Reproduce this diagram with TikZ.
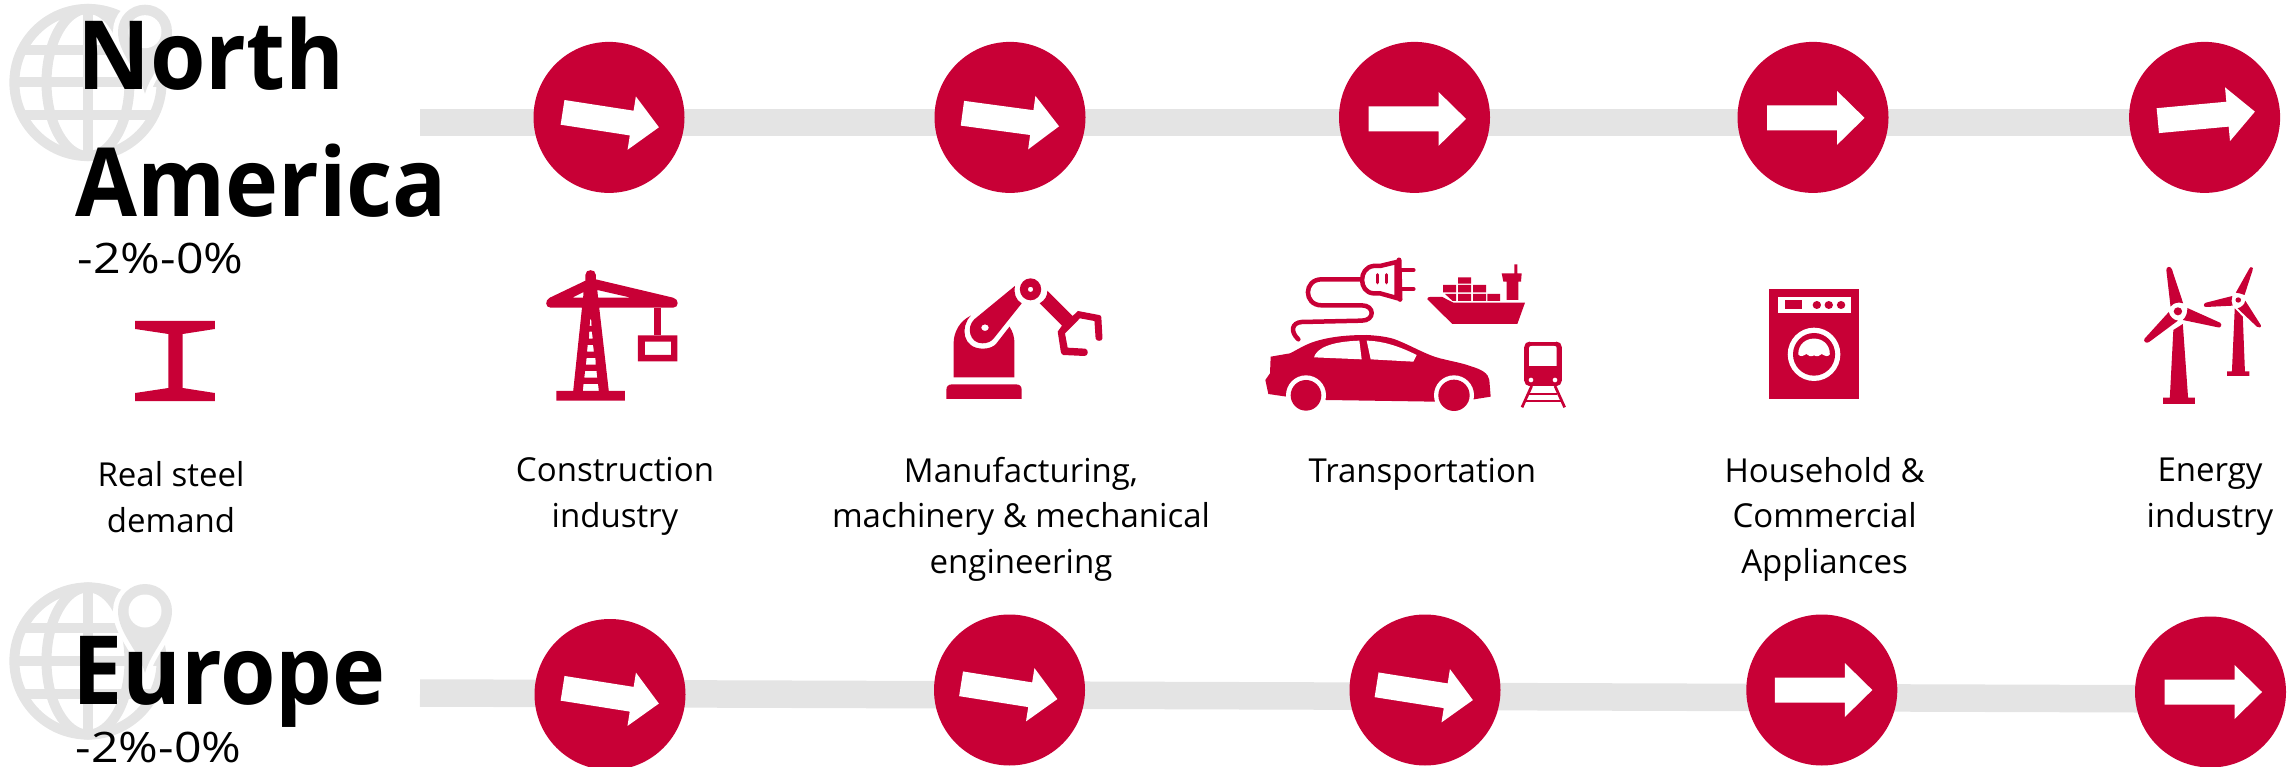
\documentclass[tikz,border=0pt]{standalone}
\usepackage{fontspec}
\setmainfont{Open Sans}
\newfontfamily\pctfont[FakeStretch=1.15]{Open Sans}
\newfontfamily\titlefont[FakeStretch=0.94]{Open Sans}
\usetikzlibrary{backgrounds}
\definecolor{steelred}{HTML}{C80036}
\definecolor{lightgrey}{HTML}{E4E4E4}
\tikzset{
  x=1pt,y=-1pt,
  redcirc/.style={circle,fill=steelred,minimum size=151pt,inner sep=0pt},
  bar/.style={draw=lightgrey,line width=27.5pt},
  icon/.style={fill=steelred,even odd rule},
  hole/.style={fill=white},
  title/.style={font=\fontsize{95.5}{95.5}\titlefont\bfseries,anchor=base west,inner sep=0pt},
  pct/.style={font=\fontsize{42}{42}\pctfont,anchor=base west,inner sep=0pt},
  lbl/.style={font=\fontsize{33}{45.5}\selectfont,anchor=base,align=center,inner sep=0pt},
  crop5/.style={shift={(520,250)},x=0.3827pt,y=-0.33333pt},
  crop4/.style={shift={(1240,240)},x=0.33333pt,y=-0.33333pt},
  crop6/.style={shift={(1740,250)},x=0.35088pt,y=-0.33333pt},
}
\newcommand{\whitearrow}[3]{%
  \fill[white,shift={(#1)},shift={(#3)},rotate=#2]
    (-46,-12.5)--(24,-12.5)--(24,-27)--(51.5,0)--(24,27)--(24,12.5)--(-46,12.5)--cycle;}
\newcommand{\globe}[2]{%
  \begin{scope}[shift={(#1)}]
    \draw[lightgrey,line width=10pt] (0,0) circle[radius=73.6];
    \draw[lightgrey,line width=10pt] (0,0) circle[x radius=41.5,y radius=73.6];
    \draw[lightgrey,line width=10pt] (0,-73.6)--(0,73.6);
    \draw[lightgrey,line width=10pt] (-72,0)--(72,0) (-66,-32.7)--(66,-32.7) (-66,32.7)--(66,32.7);
  \end{scope}
  \begin{scope}[shift={(#2)}]
    \filldraw[fill=lightgrey,draw=white,line width=10pt]
      (0,62) .. controls (-6,40) and (-27,22) .. (-27,0)
      .. controls (-27,-15) and (-15,-27) .. (0,-27)
      .. controls (15,-27) and (27,-15) .. (27,0)
      .. controls (27,22) and (6,40) .. (0,62) -- cycle;
    \fill[lightgrey]
      (0,62) .. controls (-6,40) and (-27,22) .. (-27,0)
      .. controls (-27,-15) and (-15,-27) .. (0,-27)
      .. controls (15,-27) and (27,-15) .. (27,0)
      .. controls (27,22) and (6,40) .. (0,62) -- cycle;
    \fill[white] (0,0) circle[radius=16.5];
  \end{scope}}
\begin{document}
\begin{tikzpicture}
\useasboundingbox (0,0) rectangle (2292,767);
% globes
\globe{88,82.5}{145,31.7}
\globe{88,661}{145,611}
% circles
\node[redcirc] (n1) at (609,117.4) {};
\node[redcirc] (n2) at (1010,117.4) {};
\node[redcirc] (n3) at (1414.5,117.4) {};
\node[redcirc] (n4) at (1813,117.4) {};
\node[redcirc] (n5) at (2204.6,117.4) {};
\node[redcirc] (e1) at (610,694.5) {};
\node[redcirc] (e2) at (1009.5,690) {};
\node[redcirc] (e3) at (1425,690) {};
\node[redcirc] (e4) at (1821.8,690) {};
\node[redcirc] (e5) at (2210.5,692) {};
\coordinate (nstart) at (420,122.7);
\coordinate (nend) at (2204,122.7);
\coordinate (estart) at (420,693);
\coordinate (eend) at (2210,699);
\begin{pgfonlayer}{background}
  \draw[bar] (nstart) -- (nend);
  \draw[bar] (estart) -- (eend);
\end{pgfonlayer}
\whitearrow{n1}{-8.8}{-1,2}
\whitearrow{n2}{-7.7}{-2,2}
\whitearrow{n3}{0}{0,1.5}
\whitearrow{n4}{0}{0,0.5}
\whitearrow{n5}{5.3}{-1,-1}
\whitearrow{e1}{-9}{-2,1}
\whitearrow{e2}{-9}{-3,1}
\whitearrow{e3}{-9}{-3,2}
\whitearrow{e4}{0}{-1,0}
\whitearrow{e5}{0}{0,0}
% titles
\node[title] (t1) at (77,89.5) {North};
\node[title] (t2) at (75,216.7) {America};
\node[pct] (p1) at (77.5,274) {-2\%-0\%};
\node[title] (t3) at (72,704.5) {Europe};
\node[pct] (p2) at (75.5,762) {-2\%-0\%};
% labels
\node[lbl] (l0) at (171,532) {Real steel\\demand};
\node[lbl] (l1) at (615,527) {Construction\\industry};
\node[lbl] (l2) at (1021,573) {Manufacturing,\\machinery \& mechanical\\engineering};
\node[lbl] (l3) at (1422.4,482) {Transportation};
\node[lbl] (l4) at (1824.6,573) {Household \&\\Commercial\\Appliances};
\node[lbl] (l5) at (2210,527) {Energy\\industry};
% beam
\fill[steelred] (135.2,321)--(214.8,321)--(214.8,329)--(182.7,334)--(182.7,388)--(214.8,393)--(214.8,401)--(135.2,401)--(135.2,393)--(168.4,388)--(168.4,334)--(135.2,329)--cycle;
% crane
\begin{scope}[crop5]
\fill[icon] (171,92)--(171,74) .. controls (171,56) and (198,56) .. (198,74)--(198,88)--(400,143) .. controls (416,147) and (416,173) .. (400,173)--(207,173)--(232,423)--(274,423)--(274,452)--(95,452)--(95,423)--(139,423)--(162,173)--(80,173) .. controls (65,173) and (65,150) .. (78,143)--cycle
 (137,143)--(166,126)--(165,143)--cycle
 (202,120)--(290,143)--(204,143)--cycle
 (183,208)--(186,208)--(187,228)--(182,228)--cycle
 (181,245)--(188,245)--(190,266)--(180,266)--cycle
 (177,285)--(191,285)--(193,305)--(175,305)--cycle
 (174,324)--(197,324)--(198,344)--(172,344)--cycle
 (170,363)--(200,363)--(202,383)--(168,383)--cycle
 (166,402)--(204,402)--(206,423)--(164,423)--cycle;
\fill[steelred] (351,173) rectangle (368,256);
\fill[icon] (308,256) rectangle (411,334) (326,275) rectangle (395,315);
% robot
\fill[steelred] (1114,447)--(1114,420) .. controls (1114,408) and (1120,403) .. (1130,403)--(1295,403) .. controls (1305,403) and (1311,408) .. (1311,420)--(1311,447)--cycle;
\fill[steelred] (1133,382)--(1133,280) .. controls (1133,245) and (1150,212) .. (1178,197) .. controls (1150,230) and (1155,296) .. (1210,296) .. controls (1228,296) and (1240,288) .. (1245,280)--(1279,230) .. controls (1288,245) and (1292,262) .. (1292,280)--(1292,382)--cycle;
\fill[icon] (1293,108)--(1187,208) .. controls (1165,232) and (1175,280) .. (1208,280) .. controls (1222,280) and (1232,274) .. (1238,265)--(1311,160) .. controls (1295,150) and (1290,130) .. (1293,108)--cycle
 (1215,233) circle[x radius=10,y radius=10];
\fill[icon] (1334,118) circle[x radius=28,y radius=33] (1334,118) circle[x radius=7,y radius=8];
\fill[steelred] (1378,122)--(1444,198)--(1458,183)--(1513,195) .. controls (1517,196) and (1519,198) .. (1519,202)--(1522,265) .. controls (1522,275) and (1505,275) .. (1504,265)--(1501,213)--(1463,205)--(1424,250)--(1431,293)--(1477,296) .. controls (1486,298) and (1486,318) .. (1475,318)--(1420,315) .. controls (1416,315) and (1414,310) .. (1413,305)--(1405,245)--(1416,227)--(1358,160) .. controls (1372,150) and (1378,138) .. (1378,122)--cycle;
\end{scope}
% transportation
\begin{scope}[crop4]
\fill[steelred] (92,350)--(150,340) .. controls (180,325) and (200,310) .. (240,300) .. controls (290,287) and (340,285) .. (380,285) .. controls (420,287) and (450,292) .. (470,300) .. controls (520,320) and (560,345) .. (600,355) .. controls (640,365) and (670,370) .. (690,378) .. controls (725,388) and (745,400) .. (748,420) --(752,470)--(702,478)--(585,485)--(258,480)--(140,470)--(85,462)--(76,420)--(90,400)--cycle;
\fill[white] (222,352) .. controls (230,325) and (270,305) .. (358,302)--(365,358)--cycle;
\fill[white] (380,302) .. controls (430,303) and (480,320) .. (530,345)--(520,365)--(392,358)--cycle;
\fill[white] (198,466) circle[radius=60] (642,466) circle[radius=60];
\fill[steelred] (198,466) circle[radius=46] (642,466) circle[radius=47];
% plug
\draw[steelred,line width=4.5pt,line cap=round] (370,118)--(245,118) .. controls (190,118) and (190,196) .. (245,196)--(365,196) .. controls (405,196) and (405,242) .. (365,242)--(185,246) .. controls (155,248) and (150,275) .. (175,298);
\filldraw[fill=white,draw=steelred,line width=4.5pt] (470,66)--(420,78)--(400,78) .. controls (355,83) and (355,157) .. (400,160)--(420,160)--(470,174)--cycle;
\draw[steelred,line width=5pt,line cap=round] (477,60)--(480,178);
\draw[steelred,line width=4.5pt,line cap=round] (480,90)--(520,90) (480,147)--(520,147);
\draw[steelred,line width=3.3pt,line cap=round] (413,104)--(413,128) (440,104)--(440,128);
% ship
\fill[steelred] (562,178) .. controls (562,172) and (565,171) .. (570,171)--(607,171)--(640,188)--(855,188)--(832,252)--(637,252)--cycle;
\fill[steelred] (609,135) rectangle (648,157) (654,135) rectangle (693,157) (699,135) rectangle (738,157) (654,112) rectangle (693,131) (654,162) rectangle (693,183) (699,162) rectangle (738,183) (742,162) rectangle (780,183);
\fill[steelred] (615,162)--(648,162)--(648,183)--(638,183)--cycle;
\fill[steelred] (785,100)--(823,100)--(823,73)--(832,73)--(832,100)--(845,100)--(843,125)--(835,125)--(835,180)--(800,180)--(800,125)--(790,125)--cycle;
% train
\fill[steelred] (868,305) rectangle (950,438);
\fill[steelred] (853,320) rectangle (965,423);
\fill[steelred] (868,320) circle[radius=15] (950,320) circle[radius=15] (868,423) circle[radius=15] (950,423) circle[radius=15];
\fill[white] (867,325) .. controls (867,319) and (870,318) .. (875,318)--(942,318) .. controls (948,318) and (950,319) .. (950,325)--(950,378)--(867,378)--cycle;
\fill[white] (873,420) circle[radius=7] (945,420) circle[radius=7];
\draw[steelred,line width=2.7pt] (846,502)--(875,438) (974,502)--(945,438);
\draw[steelred,line width=2.7pt] (868,462)--(952,462) (858,483)--(962,483);
\end{scope}
% washer and turbines
\begin{scope}[crop6]
\fill[steelred] (84,116) rectangle (338,448);
\fill[white] (107,141) rectangle (315,188);
\fill[steelred] (128,150) rectangle (177,176);
\fill[steelred] (219,165) circle[x radius=12,y radius=12] (253,165) circle[x radius=12,y radius=12] (288,165) circle[x radius=12,y radius=12];
\fill[white] (211,313) circle[x radius=75,y radius=80];
\fill[steelred] (211,313) circle[x radius=60,y radius=64];
\fill[white] (166,313) .. controls (166,250) and (256,250) .. (256,313) .. controls (250,322) and (242,318) .. (233,312) .. controls (226,318) and (220,322) .. (211,316) .. controls (202,322) and (196,318) .. (189,312) .. controls (180,318) and (172,322) .. (166,313)--cycle;
% big turbine
\fill[steelred] (1235,240)--(1262,222)--(1277,443)--(1296,443)--(1296,462)--(1206,462)--(1206,443)--(1225,443)--cycle;
\fill[steelred] (1248,184) circle[x radius=12,y radius=12];
\fill[steelred] (1227,170)--(1215,60) .. controls (1215,48) and (1228,48) .. (1231,58)--(1263,160) .. controls (1250,155) and (1235,158) .. (1227,170)--cycle;
\fill[steelred] (1275,174)--(1368,218) .. controls (1376,224) and (1370,235) .. (1362,232)--(1262,210) .. controls (1272,200) and (1275,188) .. (1275,174)--cycle;
\fill[steelred] (1222,186)--(1153,266) .. controls (1148,274) and (1158,282) .. (1166,276)--(1248,212) .. controls (1235,210) and (1225,200) .. (1222,186)--cycle;
% small turbine
\fill[steelred] (1410,175)--(1433,200)--(1439,364)--(1452,364)--(1452,378)--(1388,378)--(1388,364)--(1402,364)--cycle;
\fill[steelred] (1420,150) circle[x radius=8,y radius=8];
\fill[steelred] (1413,128)--(1452,55) .. controls (1456,48) and (1464,52) .. (1461,60)--(1438,135) .. controls (1430,130) and (1420,130) .. (1413,128)--cycle;
\fill[steelred] (1403,138)--(1328,158) .. controls (1320,160) and (1320,171) .. (1328,171)--(1404,167) .. controls (1400,158) and (1400,148) .. (1403,138)--cycle;
\fill[steelred] (1440,152)--(1484,225) .. controls (1488,232) and (1478,236) .. (1473,230)--(1418,175) .. controls (1428,172) and (1438,165) .. (1440,152)--cycle;
\end{scope}
\end{tikzpicture}
\end{document}
